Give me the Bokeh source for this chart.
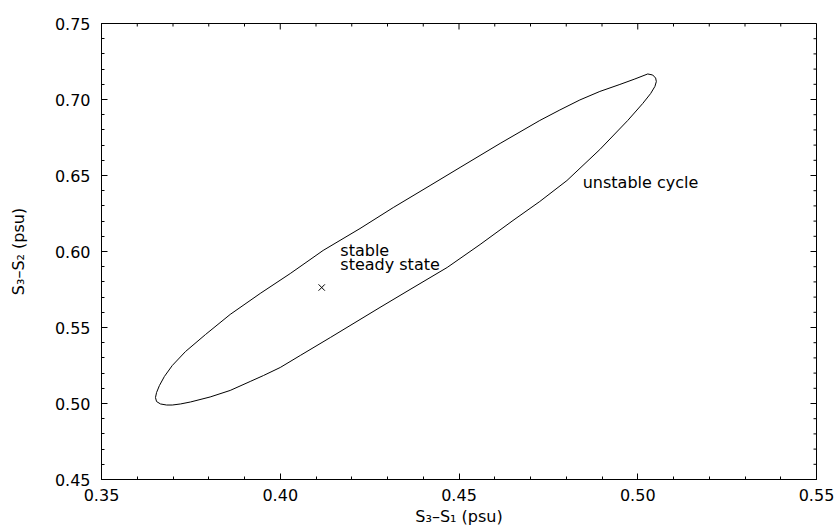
from bokeh.plotting import figure
from bokeh.models import Range1d, SingleIntervalTicker, PrintfTickFormatter
from bokeh.core.properties import value
from bokeh.embed import file_html
from bokeh.resources import INLINE
import math

# Unstable limit cycle (S3-S1, S3-S2) in psu
cycle_x = [0.3651, 0.3654, 0.3662, 0.3676, 0.3698, 0.3735, 0.3791, 0.3860, 0.3944, 0.4028,
           0.4120, 0.4223, 0.4316, 0.4419, 0.4503, 0.4615, 0.4726, 0.4782, 0.4838, 0.4894,
           0.4950, 0.4992, 0.5028, 0.5042, 0.5050, 0.5052, 0.5048, 0.5036, 0.5014, 0.4972,
           0.4894, 0.4802, 0.4726, 0.4651, 0.4559, 0.4467, 0.4363, 0.4279, 0.4140, 0.4056,
           0.4000, 0.3953, 0.3916, 0.3860, 0.3804, 0.3749, 0.3721, 0.3698, 0.3682, 0.3665,
           0.3654]
cycle_y = [0.5039, 0.5072, 0.5118, 0.5178, 0.5250, 0.5342, 0.5454, 0.5586, 0.5724, 0.5855,
           0.6007, 0.6151, 0.6289, 0.6434, 0.6553, 0.6711, 0.6862, 0.6931, 0.6997, 0.7053,
           0.7099, 0.7135, 0.7168, 0.7161, 0.7141, 0.7118, 0.7086, 0.7039, 0.6974, 0.6862,
           0.6671, 0.6467, 0.6329, 0.6204, 0.6046, 0.5895, 0.5750, 0.5632, 0.5434, 0.5316,
           0.5237, 0.5184, 0.5145, 0.5086, 0.5043, 0.5010, 0.4997, 0.4990, 0.4990, 0.4997,
           0.5013]

# Stable steady state
steady_x = [0.4116]
steady_y = [0.5763]

# Ticks
x_major = [0.35, 0.40, 0.45, 0.50, 0.55]
y_major = [0.45, 0.50, 0.55, 0.60, 0.65, 0.70, 0.75]
x_minor = [0.36, 0.37, 0.38, 0.39, 0.41, 0.42, 0.43, 0.44, 0.46, 0.47, 0.48, 0.49,
           0.51, 0.52, 0.53, 0.54]
y_minor = [0.46, 0.47, 0.48, 0.49, 0.51, 0.52, 0.53, 0.54, 0.56, 0.57, 0.58, 0.59,
           0.61, 0.62, 0.63, 0.64, 0.66, 0.67, 0.68, 0.69, 0.71, 0.72, 0.73, 0.74]

x_label = "S₃–S₁ (psu)"
y_label = "S₃–S₂ (psu)"
FONT = "DejaVu Sans"

X0, X1 = 0.35, 0.55
Y0, Y1 = 0.45, 0.75

p = figure(width=835, height=529, output_backend="svg", toolbar_location=None,
           x_range=Range1d(X0, X1), y_range=Range1d(Y0, Y1),
           min_border_left=101, min_border_right=19, min_border_top=23, min_border_bottom=50,
           x_axis_label=x_label, y_axis_label=y_label)
p.outline_line_color = "black"
p.outline_line_width = 1
p.xgrid.visible = False
p.ygrid.visible = False
p.background_fill_color = "white"
p.border_fill_color = "white"

def style_axis(ax, standoff):
    ax.ticker = SingleIntervalTicker(interval=0.05, num_minor_ticks=5)
    ax.formatter = PrintfTickFormatter(format="%.2f")
    ax.axis_line_color = "black"
    ax.axis_line_width = 1
    ax.major_tick_in = 6
    ax.major_tick_out = 0
    ax.minor_tick_in = 3
    ax.minor_tick_out = 0
    ax.major_tick_line_color = "black"
    ax.minor_tick_line_color = "black"
    ax.major_label_text_font = FONT
    ax.major_label_text_color = "black"
    ax.major_label_text_font_size = "16px"
    ax.major_label_standoff = standoff
    ax.axis_label_text_font = FONT
    ax.axis_label_text_font_size = "16px"
    ax.axis_label_text_font_style = "normal"
    ax.axis_label_text_color = "black"

style_axis(p.xaxis[0], 9)
style_axis(p.yaxis[0], 11)
p.xaxis[0].axis_label_standoff = 3
p.yaxis[0].axis_label_standoff = 24

# inward ticks on the top and right edges of the frame
p.ray(x=x_major, y=[Y1] * len(x_major), length=6, length_units="screen",
      angle=-math.pi / 2, line_color="black", line_width=1)
p.ray(x=x_minor, y=[Y1] * len(x_minor), length=3, length_units="screen",
      angle=-math.pi / 2, line_color="black", line_width=1)
p.ray(x=[X1] * len(y_major), y=y_major, length=6, length_units="screen",
      angle=math.pi, line_color="black", line_width=1)
p.ray(x=[X1] * len(y_minor), y=y_minor, length=3, length_units="screen",
      angle=math.pi, line_color="black", line_width=1)

# closed curve
lx = cycle_x + cycle_x[:1]
ly = cycle_y + cycle_y[:1]
p.line(lx, ly, line_color="black", line_width=1)

p.scatter(steady_x, steady_y, marker="x", size=9, line_color="black", line_width=1)

p.text(x=[0.4168], y=[0.6007], text=["stable"], text_font=value(FONT),
       text_font_size="16px", text_color="black", text_baseline="alphabetic")
p.text(x=[0.4168], y=[0.5915], text=["steady state"], text_font=value(FONT),
       text_font_size="16px", text_color="black", text_baseline="alphabetic")
p.text(x=[0.4846], y=[0.6454], text=["unstable cycle"], text_font=value(FONT),
       text_font_size="16px", text_color="black", text_baseline="alphabetic")

open("out.html", "w").write(file_html(p, INLINE))
